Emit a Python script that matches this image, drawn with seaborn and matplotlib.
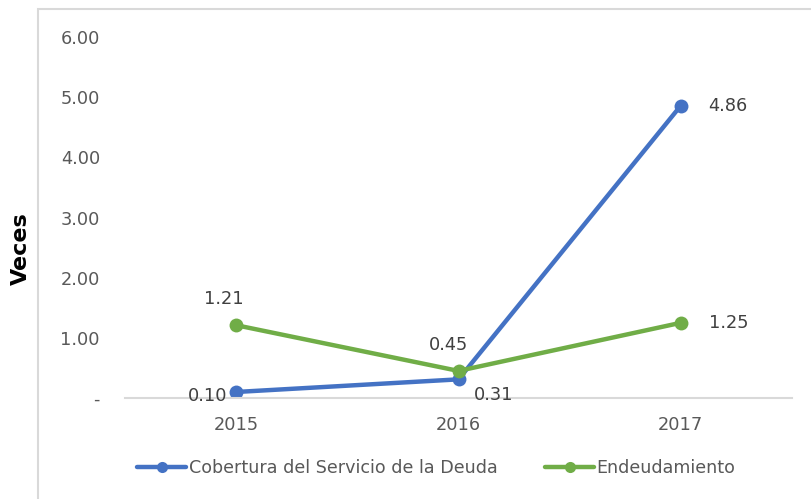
import matplotlib
matplotlib.use("Agg")
import matplotlib.pyplot as plt
import matplotlib.patches as mpatches
import pandas as pd
import seaborn as sns

years = ["2015", "2016", "2017"]
cobertura = [0.10, 0.31, 4.86]
endeudamiento = [1.21, 0.45, 1.25]
series_names = ["Cobertura del Servicio de la Deuda", "Endeudamiento"]
colors = ["#4472C4", "#70AD47"]

df = pd.DataFrame({
    "anio": years * 2,
    "valor": cobertura + endeudamiento,
    "serie": [series_names[0]] * 3 + [series_names[1]] * 3,
})

sns.set_theme(style="white")
plt.rcParams["font.family"] = ["DejaVu Sans"]

fig = plt.figure(figsize=(8.11, 4.99), dpi=100)
ax = fig.add_axes([125 / 811, 1 - 398 / 499, (792 - 125) / 811, (398 - 37) / 499])

sns.lineplot(data=df, x="anio", y="valor", hue="serie", palette=colors,
             marker="o", markersize=10, markeredgewidth=0, linewidth=3.2,
             sort=False, ax=ax, legend=True)

ax.set_xlim(-0.5, 2.5)
ax.set_ylim(0, 6)
ax.set_yticks([0, 1, 2, 3, 4, 5, 6])
ax.set_yticklabels(["-", "1.00", "2.00", "3.00", "4.00", "5.00", "6.00"])
for s in ["top", "right", "left"]:
    ax.spines[s].set_visible(False)
ax.spines["bottom"].set_color("#d9d9d9")
ax.spines["bottom"].set_linewidth(1.5)
ax.tick_params(axis="both", length=0, labelsize=12.8, colors="#595959")
ax.tick_params(axis="y", pad=18)
ax.tick_params(axis="x", pad=13)
ax.set_xlabel("")
ax.set_ylabel("")

# data labels
lab = "#404040"
fs = 12.8
ax.annotate(f"{cobertura[0]:.2f}", (0, cobertura[0]), xytext=(-6, -3), textcoords="offset points",
            ha="right", va="center", fontsize=fs, color=lab)
ax.annotate(f"{cobertura[1]:.2f}", (1, cobertura[1]), xytext=(11, -11), textcoords="offset points",
            ha="left", va="center", fontsize=fs, color=lab)
ax.annotate(f"{cobertura[2]:.2f}", (2, cobertura[2]), xytext=(20, 0), textcoords="offset points",
            ha="left", va="center", fontsize=fs, color=lab)
ax.annotate(f"{endeudamiento[0]:.2f}", (0, endeudamiento[0]), xytext=(-9, 19), textcoords="offset points",
            ha="center", va="center", fontsize=fs, color=lab)
ax.annotate(f"{endeudamiento[1]:.2f}", (1, endeudamiento[1]), xytext=(-7, 19), textcoords="offset points",
            ha="center", va="center", fontsize=fs, color=lab)
ax.annotate(f"{endeudamiento[2]:.2f}", (2, endeudamiento[2]), xytext=(20, 0), textcoords="offset points",
            ha="left", va="center", fontsize=fs, color=lab)

fig.text(21 / 811, 1 - 249 / 499, "Veces", rotation=90, ha="center", va="center",
         fontsize=16, fontweight="bold", color="black")

handles, labels = ax.get_legend_handles_labels()
ax.legend(handles, labels, loc="center", bbox_to_anchor=(0.467, -0.194), ncol=2,
          frameon=False, fontsize=12.6, labelcolor="#595959", handlelength=2.8,
          handletextpad=0.15, columnspacing=2.7, markerscale=0.8)

# chart area border
border = mpatches.Rectangle((38 / 811, -0.2), 2, 1.2 - 9 / 499, transform=fig.transFigure,
                            fill=False, edgecolor="#d9d9d9", linewidth=1.5, clip_on=False)
fig.patches.append(border)

fig.savefig("out.png", dpi=100)
